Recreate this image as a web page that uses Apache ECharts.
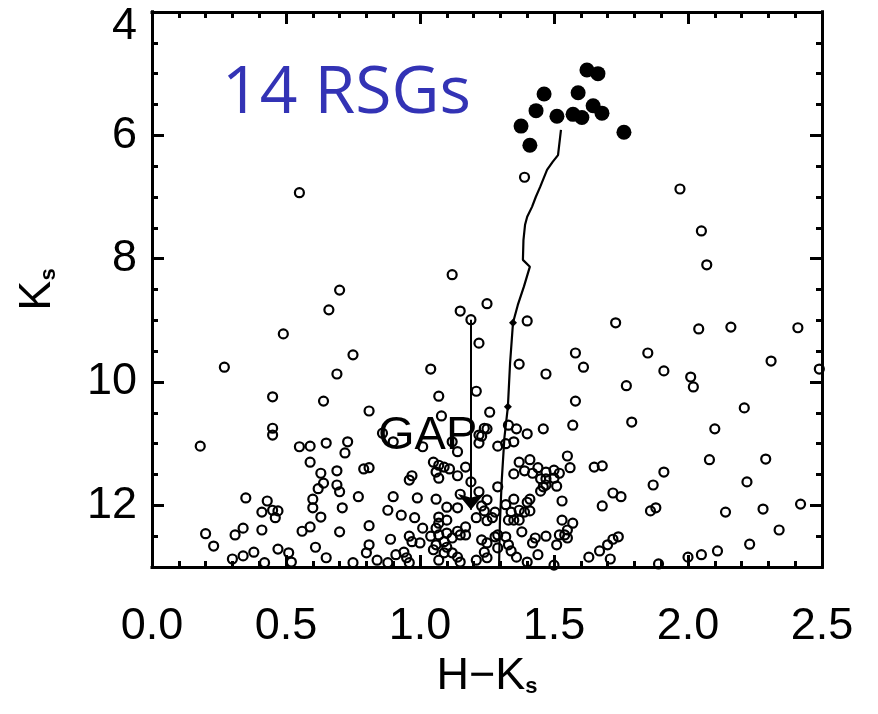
<!DOCTYPE html>
<html>
<head>
<meta charset="utf-8">
<script src="https://cdn.jsdelivr.net/npm/echarts@6/dist/echarts.min.js"></script>
<style>
  html, body { margin: 0; padding: 0; background: #fff; }
  #chart { width: 878px; height: 714px; }
</style>
</head>
<body>
<div id="chart"></div>
<script>
// H-Ks colour, Ks magnitude
const xTicks = [0.0, 0.5, 1.0, 1.5, 2.0, 2.5];
const yTicks = [4, 6, 8, 10, 12];

const rsgStars = [
  [1.623, 4.94], [1.664, 5.00], [1.463, 5.33], [1.590, 5.31], [1.433, 5.60],
  [1.511, 5.69], [1.571, 5.66], [1.604, 5.71], [1.646, 5.52], [1.679, 5.64],
  [1.377, 5.85], [1.410, 6.16], [1.761, 5.95]
];

const fieldStars = [
  [0.55, 6.93], [0.70, 8.51], [1.12, 8.26], [1.39, 6.68], [1.97, 6.87], [2.05, 7.55], [2.07, 8.10],
  [0.66, 8.83], [0.49, 9.22], [0.75, 9.56], [0.27, 9.76], [0.69, 9.87], [0.45, 10.24], [0.64, 10.31],
  [0.81, 10.47], [0.45, 10.75], [0.45, 10.86], [0.18, 11.04], [0.55, 11.05], [0.59, 11.04], [0.65, 10.99],
  [0.73, 10.97], [0.72, 11.15], [0.59, 11.30], [0.63, 11.48], [0.69, 11.44], [0.79, 11.41], [0.81, 11.39],
  [0.35, 11.88], [0.43, 11.93], [0.41, 12.11], [0.45, 12.08], [0.47, 12.09], [0.46, 12.20], [0.60, 11.90],
  [0.62, 11.73], [0.64, 11.64], [0.69, 11.67], [0.70, 11.78], [0.60, 12.04], [0.63, 12.19], [0.71, 12.04],
  [0.77, 11.86], [0.20, 12.46], [0.23, 12.66], [0.31, 12.48], [0.34, 12.37], [0.41, 12.40], [0.56, 12.42],
  [0.59, 12.35], [0.70, 12.43], [0.81, 12.33], [0.30, 12.87], [0.34, 12.82], [0.38, 12.76], [0.42, 12.93],
  [0.47, 12.71], [0.51, 12.77], [0.52, 12.92], [0.61, 12.68], [0.65, 12.85], [0.75, 12.93], [0.81, 12.64],
  [0.80, 12.77], [0.84, 12.89], [0.88, 12.93], [0.88, 12.08], [0.90, 11.86], [0.89, 12.55], [0.93, 12.16],
  [0.96, 11.59], [0.97, 11.52], [0.99, 11.88], [0.98, 12.20], [1.01, 12.37], [0.96, 12.50], [0.97, 12.59],
  [1.00, 12.61], [0.94, 12.76], [0.95, 12.85], [0.96, 12.93], [1.04, 9.79], [1.07, 10.23], [1.08, 10.55],
  [0.86, 10.83], [0.90, 10.97], [1.01, 11.05], [1.05, 11.30], [1.07, 11.35], [1.06, 11.46], [1.09, 11.38],
  [1.11, 11.41], [1.07, 11.56], [1.14, 11.52], [1.06, 11.90], [1.10, 12.03], [1.14, 12.04], [1.15, 8.85],
  [1.19, 8.99], [1.22, 9.37], [1.21, 10.15], [1.25, 8.73], [1.26, 10.49], [1.25, 10.76], [1.23, 10.88],
  [1.22, 10.99], [1.29, 11.04], [1.12, 10.97], [1.14, 11.13], [1.17, 11.38], [1.19, 11.62], [1.15, 11.82],
  [1.22, 11.78], [1.25, 11.91], [1.23, 12.01], [1.24, 12.09], [1.21, 12.20], [1.25, 12.25], [1.27, 12.20],
  [1.28, 12.11], [1.07, 12.19], [1.07, 12.29], [1.10, 12.24], [1.06, 12.37], [1.04, 12.50], [1.07, 12.48],
  [1.10, 12.45], [1.14, 12.42], [1.17, 12.35], [1.17, 12.48], [1.15, 12.48], [1.09, 12.59], [1.10, 12.68],
  [1.12, 12.53], [1.06, 12.64], [1.05, 12.72], [1.09, 12.77], [1.12, 12.77], [1.14, 12.84], [1.07, 12.89],
  [1.15, 12.92], [1.23, 12.56], [1.25, 12.61], [1.24, 12.76], [1.21, 12.89], [1.25, 12.85], [1.28, 12.51],
  [1.29, 12.69], [0.91, 12.80], [1.24, 10.75], [1.22, 10.86],
  [1.33, 10.70], [1.36, 10.76], [1.40, 10.84], [1.46, 10.76], [1.57, 10.70], [1.79, 10.65], [1.32, 11.00],
  [1.35, 10.97], [1.37, 11.30], [1.41, 11.26], [1.35, 11.49], [1.39, 11.44], [1.42, 11.48], [1.44, 11.39],
  [1.47, 11.46], [1.50, 11.43], [1.52, 11.48], [1.55, 11.20], [1.56, 11.39], [1.45, 11.57], [1.47, 11.57],
  [1.50, 11.56], [1.46, 11.70], [1.45, 11.77], [1.51, 11.69], [1.47, 11.67], [1.29, 11.70], [1.35, 11.90],
  [1.41, 11.90], [1.40, 11.95], [1.32, 11.99], [1.34, 12.11], [1.37, 12.08], [1.41, 12.09], [1.39, 12.11],
  [1.33, 12.24], [1.35, 12.24], [1.37, 12.24], [1.38, 12.43], [1.53, 11.93], [1.53, 12.24], [1.57, 12.29],
  [1.55, 12.40], [1.54, 12.48], [1.52, 12.48], [1.55, 12.53], [1.51, 12.64], [1.47, 12.50], [1.43, 12.53],
  [1.42, 12.61], [1.29, 12.48], [1.32, 12.51], [1.33, 12.64], [1.34, 12.74], [1.36, 12.84], [1.44, 12.80],
  [1.40, 12.92], [1.50, 12.97], [1.63, 12.84], [1.67, 12.74], [1.70, 12.64], [1.72, 12.55], [1.74, 12.51],
  [1.71, 12.87], [1.68, 12.01], [1.72, 11.80], [1.75, 11.86], [1.65, 11.38], [1.68, 11.36], [1.87, 11.67],
  [1.86, 12.09], [1.88, 12.04], [2.10, 10.76], [2.08, 11.26], [2.29, 11.25], [1.91, 11.46], [2.22, 11.62],
  [2.14, 12.11], [2.28, 12.06], [2.42, 11.98], [2.34, 12.40], [2.23, 12.63], [2.11, 12.74], [2.05, 12.80],
  [2.00, 12.84], [1.89, 12.95],
  [1.40, 9.01], [1.73, 9.04], [2.04, 9.14], [2.16, 9.11], [2.41, 9.12], [1.58, 9.53], [1.61, 9.76],
  [1.37, 9.71], [1.47, 9.87], [1.85, 9.53], [1.91, 9.82], [2.01, 9.92], [2.02, 10.08], [2.31, 9.66],
  [2.49, 9.79], [1.77, 10.06], [1.58, 10.31], [2.21, 10.42]
];

const isochrone = [
  [1.526, 5.91], [1.515, 6.32], [1.495, 6.43], [1.474, 6.56], [1.448, 6.84], [1.432, 7.00],
  [1.418, 7.16], [1.400, 7.32], [1.392, 7.45], [1.386, 7.70], [1.384, 8.02], [1.377, 8.05],
  [1.410, 8.13], [1.388, 8.45], [1.365, 8.75], [1.347, 9.04], [1.336, 9.70], [1.328, 10.40],
  [1.315, 10.90], [1.305, 11.60], [1.298, 12.30], [1.295, 13.0]
];
const isochroneMarks = [[1.347, 9.04], [1.328, 10.40]];

const gapArrow = [[1.19, 8.99], [1.19, 12.07]];

const font = '"Liberation Sans", Arial, sans-serif';
const axisLine = { show: true, onZero: false, lineStyle: { color: '#000', width: 3, cap: 'square' } };
const bigTick = { show: true, inside: true, length: 12, lineStyle: { color: '#000', width: 3 } };
const smallTick = { show: true, inside: true, length: 6, lineStyle: { color: '#000', width: 3 } };
const subRich = {
  m: { fontSize: 45, lineHeight: 44, fontFamily: font, color: '#000' },
  s: { fontSize: 22, lineHeight: 10, fontFamily: font, fontWeight: 'bold', color: '#000', verticalAlign: 'bottom' }
};

function xAxisFor(pos, labels) {
  return {
    type: 'value', position: pos, min: 0, max: 2.5, interval: 0.5,
    axisLine: axisLine, axisTick: bigTick, splitLine: { show: false },
    minorTick: { show: true, splitNumber: 5, length: 6, lineStyle: { color: '#000', width: 3 } },
    axisLabel: labels ? {
      show: true, margin: 37, fontSize: 45, fontFamily: font, color: '#000',
      formatter: v => v.toFixed(1)
    } : { show: false },
    name: labels ? '{m|H\u2212K}{s|s}' : '',
    nameLocation: 'middle', nameGap: 76,
    nameTextStyle: { rich: subRich }
  };
}

function yAxisFor(pos, labels, step, tick) {
  return {
    type: 'value', position: pos, inverse: true, min: 4, max: 13, interval: step,
    axisLine: axisLine, axisTick: tick, splitLine: { show: false },
    axisLabel: labels ? {
      show: true, margin: 15, fontSize: 45, fontFamily: font, color: '#000',
      showMaxLabel: false,
      formatter: v => (yTicks.indexOf(v) >= 0 ? (v === 4 ? '{t|4}' : String(v)) : ''),
      rich: { t: { fontSize: 45, fontFamily: font, color: '#000', padding: [30, 0, 0, 0] } }
    } : { show: false },
    name: labels ? '{m|K}{s|s}' : '',
    nameLocation: 'middle', nameGap: 92, nameRotate: 90,
    nameTextStyle: { rich: subRich }
  };
}

const chart = echarts.init(document.getElementById('chart'), null, { renderer: 'canvas' });

chart.setOption({
  backgroundColor: '#fff',
  animation: false,
  grid: { left: 152, top: 12, right: 56, bottom: 147, containLabel: false },
  xAxis: [xAxisFor('bottom', true), xAxisFor('top', false)],
  yAxis: [
    yAxisFor('left', true, 2, bigTick),
    yAxisFor('left', false, 0.5, smallTick),
    yAxisFor('right', false, 2, bigTick),
    yAxisFor('right', false, 0.5, smallTick)
  ],
  graphic: [
    {
      type: 'text', left: 222, top: 61,
      style: { text: '14 RSGs', font: '66px "Open Sans", "Noto Sans", sans-serif', fill: '#3333b5' }
    },
    {
      type: 'text', left: 378, top: 413,
      style: { text: 'GAP', font: '47px ' + font, fill: '#000' }, z: 10
    }
  ],
  series: [
    {
      name: 'isochrone', type: 'line', data: isochrone, symbol: 'none', silent: true,
      lineStyle: { color: '#000', width: 2.2 }, z: 2,
      markLine: {
        silent: true, symbol: ['none', 'arrow'], symbolSize: [20, 16],
        label: { show: false },
        lineStyle: { color: '#000', width: 2, type: 'solid' },
        data: [[{ coord: gapArrow[0] }, { coord: gapArrow[1] }]]
      }
    },
    {
      name: 'marks', type: 'scatter', data: isochroneMarks, symbol: 'diamond', symbolSize: 8,
      itemStyle: { color: '#000', opacity: 1 }, silent: true, z: 3
    },
    {
      name: 'field', type: 'scatter', data: fieldStars, symbol: 'circle', symbolSize: 9,
      itemStyle: { color: 'rgba(255,255,255,0)', borderColor: '#000', borderWidth: 2.2, opacity: 1 },
      silent: true, z: 4
    },
    {
      name: 'RSG', type: 'scatter', data: rsgStars, symbol: 'circle', symbolSize: 15,
      itemStyle: { color: '#000', opacity: 1 }, silent: true, z: 5
    }
  ]
});
</script>
</body>
</html>
